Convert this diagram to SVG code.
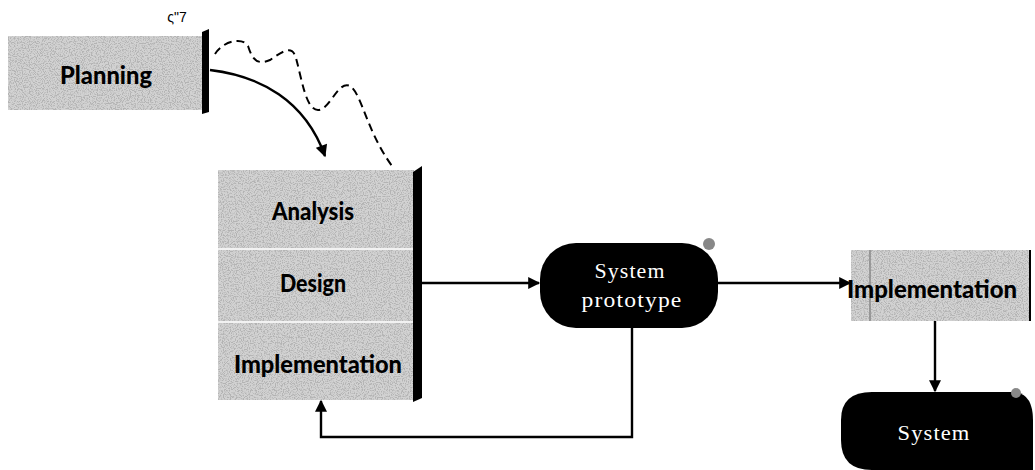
<svg xmlns="http://www.w3.org/2000/svg" width="1035" height="470" viewBox="0 0 1035 470">
  <defs>
    <filter id="grain" x="0" y="0" width="100%" height="100%">
      <feTurbulence type="fractalNoise" baseFrequency="0.85" numOctaves="2" seed="3" result="n"/>
      <feColorMatrix in="n" type="matrix" values="0 0 0 0 0.45  0 0 0 0 0.45  0 0 0 0 0.45  0 0 0 5 -2.3" result="dots"/>
      <feComposite in="dots" in2="SourceGraphic" operator="in" result="d2"/>
      <feMerge><feMergeNode in="SourceGraphic"/><feMergeNode in="d2"/></feMerge>
    </filter>
    <marker id="arrow" viewBox="0 0 10 10" refX="9" refY="5" markerWidth="13" markerHeight="12" markerUnits="userSpaceOnUse" orient="auto">
      <path d="M0,0 L10,5 L0,10 Z" fill="#000"/>
    </marker>
  </defs>
  <style>
    .box { fill: #d2d2d2; filter: url(#grain); }
    .bar { fill: #000; }
    .label { font-family: Lato, "Liberation Sans", Arial, sans-serif; font-weight: 900; font-size: 24px; fill: #000; text-anchor: middle; }
    .pill { fill: #000; }
    .pilltext { font-family: "Liberation Serif", "Times New Roman", serif; font-size: 20px; fill: #fff; text-anchor: middle; letter-spacing: 1px; }
    .link { fill: none; stroke: #000; stroke-width: 2.4; }
    .dash { fill: none; stroke: #000; stroke-width: 2; stroke-dasharray: 8 5; }
  </style>

  <rect width="1035" height="470" fill="#fff"/>

  <!-- Planning phase -->
  <g id="planning">
    <rect class="box" x="8" y="36" width="196" height="74"/>
    <polygon class="bar" points="202,32 209,29 209,112 202,114"/>
    <text class="label" x="106" y="84" textLength="92" lengthAdjust="spacingAndGlyphs">Planning</text>
    <text x="177" y="22" font-family="Liberation Sans, Arial, sans-serif" font-size="14" fill="#000" text-anchor="middle">ς"7</text>
  </g>

  <!-- Iterative analysis / design / implementation stack -->
  <g id="iteration">
    <rect class="box" x="218" y="170" width="196" height="230"/>
    <polygon class="bar" points="413,172 422,166 422,398 413,402"/>
    <line x1="218" y1="249" x2="413" y2="249" stroke="#f2f2f2" stroke-width="2"/>
    <line x1="218" y1="322" x2="413" y2="322" stroke="#f2f2f2" stroke-width="2"/>
    <text class="label" x="313" y="220" textLength="82" lengthAdjust="spacingAndGlyphs">Analysis</text>
    <text class="label" x="313" y="292" textLength="66" lengthAdjust="spacingAndGlyphs">Design</text>
    <text class="label" x="318" y="373" textLength="168" lengthAdjust="spacingAndGlyphs">Implementation</text>
  </g>

  <!-- System prototype -->
  <g id="prototype">
    <rect class="pill" x="540" y="243" width="178" height="85" rx="36" ry="36"/>
    <circle cx="709" cy="244" r="6" fill="#888"/>
    <text class="pilltext" x="630" y="278" textLength="71" lengthAdjust="spacingAndGlyphs">System</text>
    <text class="pilltext" x="632" y="307" textLength="101" lengthAdjust="spacingAndGlyphs">prototype</text>
  </g>

  <!-- Final implementation -->
  <g id="implementation">
    <rect class="box" x="851" y="250" width="179" height="71"/>
    <line x1="870" y1="250" x2="870" y2="321" stroke="#888" stroke-width="1.5"/>
    <line x1="1030" y1="250" x2="1030" y2="321" stroke="#000" stroke-width="2"/>
    <text class="label" x="932" y="298" textLength="170" lengthAdjust="spacingAndGlyphs">Implementation</text>
  </g>

  <!-- Delivered system -->
  <g id="system">
    <path class="pill" d="M872,392 L1015,392 Q1033,394 1033,420 L1033,470 L872,470 Q841,470 841,440 L841,420 Q841,392 872,392 Z"/>
    <circle cx="1016" cy="393" r="5" fill="#888"/>
    <text class="pilltext" x="934" y="440" textLength="73" lengthAdjust="spacingAndGlyphs">System</text>
  </g>

  <!-- Connectors -->
  <g id="connectors">
    <path class="link" d="M210,70 C260,76 305,100 325,156" marker-end="url(#arrow)"/>
    <path class="dash" d="M215,54 C222,42 242,36 248,46 C252,58 256,66 270,60 C282,52 292,44 296,58 C302,80 306,110 318,110 C330,110 338,80 350,86 C362,94 366,130 392,166"/>
    <line class="link" x1="422" y1="283" x2="539" y2="283" marker-end="url(#arrow)"/>
    <line class="link" x1="718" y1="283" x2="850" y2="283" marker-end="url(#arrow)"/>
    <line class="link" x1="935" y1="321" x2="935" y2="391" marker-end="url(#arrow)"/>
    <polyline class="link" points="632,328 632,437 321,437 321,401" marker-end="url(#arrow)"/>
  </g>
</svg>
